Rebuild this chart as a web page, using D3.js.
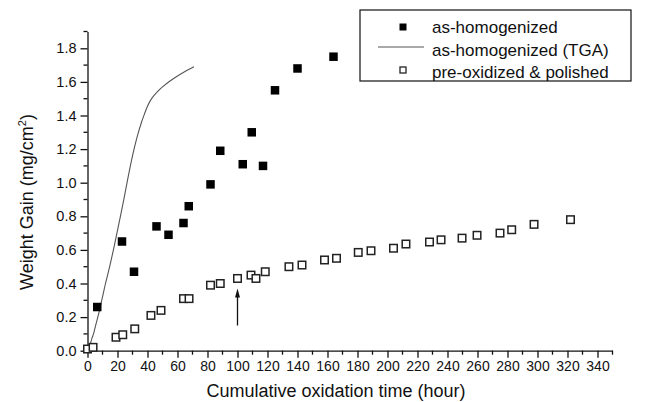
<!DOCTYPE html>
<meta charset="utf-8">
<title>Weight gain vs cumulative oxidation time</title>
<style>
  body { margin: 0; background-color: #fff; }
  text { font-family: "Liberation Sans", Arial, sans-serif; fill: #111; }
  .axis path, .axis line { stroke: #111; stroke-width: 1.3px; }
</style>
<body>
  <script src="https://d3js.org/d3.v7.min.js"></script>
  <script>

// as-homogenized (filled squares)
const homogTime = [6.5, 23, 31, 46, 54, 64, 67.5, 82, 88.5, 103.5, 109.5, 117, 125, 140, 164];
const homogGain = [0.26, 0.65, 0.47, 0.74, 0.69, 0.76, 0.86, 0.99, 1.19, 1.11, 1.30, 1.10, 1.55, 1.68, 1.75];

// as-homogenized, TGA trace
const tgaTime = [0, 1, 2, 3, 4, 5, 6, 8, 10, 12, 15, 18, 21, 24, 27, 30, 33, 36, 38, 40, 42, 44, 47, 50, 55, 60, 65, 71];
const tgaGain = [0, 0.02, 0.045, 0.075, 0.10, 0.135, 0.17, 0.24, 0.32, 0.40, 0.51, 0.63, 0.76, 0.89, 1.03, 1.16, 1.27, 1.36, 1.41, 1.455, 1.49, 1.515, 1.545, 1.57, 1.605, 1.635, 1.662, 1.69];

// pre-oxidized & polished (open squares)
const preoxTime = [0, 3.7, 19, 23.5, 31.5, 42.3, 49, 64, 67.7, 82, 88.5, 100, 109, 112.3, 118.5, 134.3, 143, 158, 166, 180.5, 189, 204, 212.3, 228, 235.7, 249.7, 259.7, 275, 282.8, 297.7, 322];
const preoxGain = [0.01, 0.02, 0.08, 0.095, 0.13, 0.21, 0.24, 0.31, 0.31, 0.39, 0.40, 0.43, 0.45, 0.43, 0.47, 0.50, 0.51, 0.54, 0.55, 0.585, 0.595, 0.61, 0.635, 0.647, 0.66, 0.67, 0.687, 0.70, 0.72, 0.752, 0.78];

const xTicks = d3.range(0, 341, 20);
const yTicks = [0, 0.2, 0.4, 0.6, 0.8, 1.0, 1.2, 1.4, 1.6, 1.8];
const legendLabels = ["as-homogenized", "as-homogenized (TGA)", "pre-oxidized & polished"];
const arrowAt = { time: 100, from: 0.15, to: 0.37 };

const width = 646;
const height = 402;

const x = d3.scaleLinear().domain([0, 350]).range([87.5, 612.5]);
const y = d3.scaleLinear().domain([0, 1.9]).range([350.7, 31.5]);

const svg = d3.select("body").append("svg")
    .attr("width", width)
    .attr("height", height);

// axes: major ticks labelled, minor ticks in between
const xAxis = svg.append("g").attr("class", "axis")
    .attr("transform", `translate(0,${y(0)})`)
    .call(d3.axisBottom(x).tickValues(xTicks).tickSize(7).tickSizeOuter(0).tickPadding(3).tickFormat(d3.format("d")));
xAxis.selectAll("text").style("font-size", "14px");
xAxis.selectAll(".minor")
    .data(d3.range(10, 351, 20))
  .enter().append("line")
    .attr("class", "minor")
    .attr("x1", d => x(d)).attr("x2", d => x(d))
    .attr("y1", 0).attr("y2", 4)
    .attr("stroke", "#111").attr("stroke-width", 1.3);

const yAxis = svg.append("g").attr("class", "axis")
    .attr("transform", `translate(${x(0)},0)`)
    .call(d3.axisLeft(y).tickValues(yTicks).tickSize(7).tickSizeOuter(0).tickPadding(4).tickFormat(d3.format(".1f")));
yAxis.selectAll("text").style("font-size", "14.5px");
yAxis.selectAll(".minor")
    .data(d3.range(0.1, 1.95, 0.2))
  .enter().append("line")
    .attr("class", "minor")
    .attr("y1", d => y(d)).attr("y2", d => y(d))
    .attr("x1", 0).attr("x2", -4)
    .attr("stroke", "#111").attr("stroke-width", 1.3);

// axis titles
svg.append("text")
    .attr("x", 336).attr("y", 397)
    .attr("text-anchor", "middle")
    .style("font-size", "18px")
    .text("Cumulative oxidation time (hour)");

const yTitle = svg.append("text")
    .attr("transform", "translate(33,202) rotate(-90)")
    .attr("text-anchor", "middle")
    .style("font-size", "18px");
yTitle.append("tspan").text("Weight Gain (mg/cm");
yTitle.append("tspan").attr("dy", -7).style("font-size", "11px").text("2");
yTitle.append("tspan").attr("dy", 7).text(")");

// TGA trace
const tga = tgaTime.map((t, i) => [t, tgaGain[i]]);
svg.append("path")
    .attr("d", d3.line().x(d => x(d[0])).y(d => y(d[1])).curve(d3.curveCatmullRom)(tga))
    .attr("fill", "none")
    .attr("stroke", "#555")
    .attr("stroke-width", 1.1);

// open squares
const preox = preoxTime.map((t, i) => [t, preoxGain[i]]);
const so = 7.5;
svg.append("g").selectAll("rect")
    .data(preox)
  .enter().append("rect")
    .attr("x", d => x(d[0]) - so / 2)
    .attr("y", d => y(d[1]) - so / 2)
    .attr("width", so).attr("height", so)
    .attr("fill", "#fff")
    .attr("stroke", "#222")
    .attr("stroke-width", 1.5);

// filled squares
const homog = homogTime.map((t, i) => [t, homogGain[i]]);
const sf = 8.5;
svg.append("g").selectAll("rect")
    .data(homog)
  .enter().append("rect")
    .attr("x", d => x(d[0]) - sf / 2)
    .attr("y", d => y(d[1]) - sf / 2)
    .attr("width", sf).attr("height", sf)
    .attr("fill", "#000");

// arrow marking the pre-oxidation step
const ax = x(arrowAt.time);
svg.append("line")
    .attr("x1", ax).attr("x2", ax)
    .attr("y1", y(arrowAt.from)).attr("y2", y(arrowAt.to) + 6)
    .attr("stroke", "#111").attr("stroke-width", 1.3);
svg.append("path")
    .attr("d", `M${ax},${y(arrowAt.to)} L${ax - 2.5},${y(arrowAt.to) + 9} L${ax + 2.5},${y(arrowAt.to) + 9} Z`)
    .attr("fill", "#111");

// legend
const legend = svg.append("g");
legend.append("rect")
    .attr("x", 360).attr("y", 10)
    .attr("width", 271).attr("height", 71)
    .attr("fill", "#fff")
    .attr("stroke", "#111")
    .attr("stroke-width", 1.2);

const rowY = [27, 50, 72];
legend.selectAll("text")
    .data(legendLabels)
  .enter().append("text")
    .attr("x", 432)
    .attr("y", (d, i) => rowY[i] + 6)
    .style("font-size", "17px")
    .text(d => d);

legend.append("rect")
    .attr("x", 399.5).attr("y", rowY[0] - 3.5)
    .attr("width", 7).attr("height", 7)
    .attr("fill", "#000");
legend.append("line")
    .attr("x1", 378).attr("x2", 424)
    .attr("y1", rowY[1] - 3).attr("y2", rowY[1] - 3)
    .attr("stroke", "#555").attr("stroke-width", 1.1);
legend.append("rect")
    .attr("x", 400).attr("y", rowY[2] - 5)
    .attr("width", 6).attr("height", 6)
    .attr("fill", "#fff")
    .attr("stroke", "#222")
    .attr("stroke-width", 1.3);

  </script>
</body>
